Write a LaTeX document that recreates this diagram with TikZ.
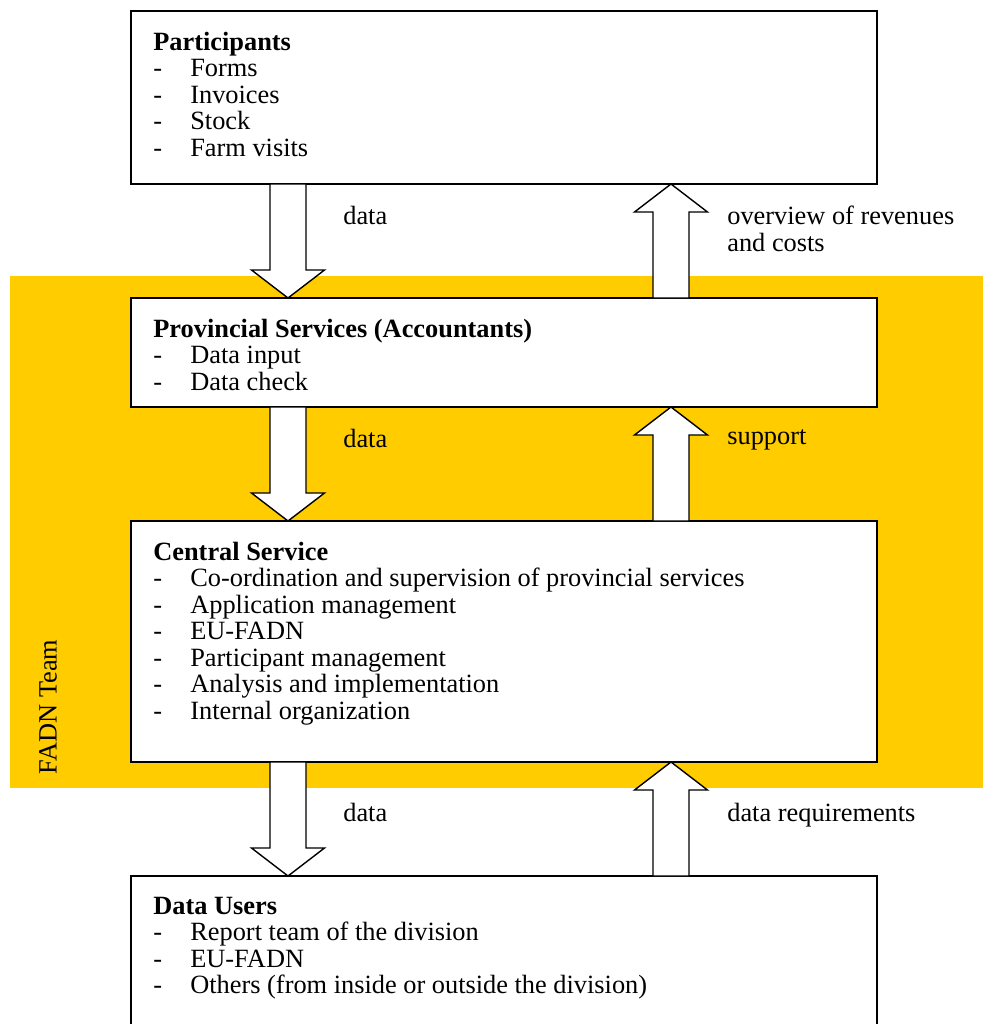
\documentclass[tikz,border=0pt]{standalone}
\usepackage{fontspec}
\setmainfont{Liberation Serif}
\usetikzlibrary{positioning, calc, backgrounds}
\definecolor{teamcolor}{RGB}{255,204,0}
\newcommand{\entry}[1]{\makebox[0.74cm][l]{-}#1}
% block arrows between two boxes: #1 x offset from the west side
\newcommand{\flowdown}[3]{%
  \draw[blockarrow] let \p1 = ($(#2.south west)+(#1,0)$),
                        \p2 = ($(#3.north west)+(#1,0)$) in
    (\x1-0.36cm,\y1) -- (\x1+0.36cm,\y1) -- (\x1+0.36cm,\y2+0.56cm)
    -- (\x1+0.73cm,\y2+0.56cm) -- (\x2,\y2) -- (\x1-0.73cm,\y2+0.56cm)
    -- (\x1-0.36cm,\y2+0.56cm) -- cycle;}
\newcommand{\flowup}[3]{%
  \draw[blockarrow] let \p1 = ($(#2.north west)+(#1,0)$),
                        \p2 = ($(#3.south west)+(#1,0)$) in
    (\x1-0.36cm,\y1) -- (\x1+0.36cm,\y1) -- (\x1+0.36cm,\y2-0.56cm)
    -- (\x1+0.73cm,\y2-0.56cm) -- (\x2,\y2) -- (\x1-0.73cm,\y2-0.56cm)
    -- (\x1-0.36cm,\y2-0.56cm) -- cycle;}
\tikzset{
  unit/.style={draw, line width=1.5pt, fill=white, minimum width=14.92cm,
               inner sep=0pt, outer sep=0pt},
  unittext/.style={anchor=north west, align=left, inner sep=0pt,
                   font=\fontsize{15}{15.1}\selectfont},
  flowlabel/.style={anchor=north west, align=left, inner sep=0pt,
                    font=\fontsize{15}{15.1}\selectfont},
  blockarrow/.style={draw, line width=0.8pt, fill=white, line join=miter},
}
\begin{document}
\begin{tikzpicture}
  \useasboundingbox (0,0) rectangle (19.66,-20.48);
  \clip (0,0) rectangle (19.66,-20.48);

  \node[unit, minimum height=3.46cm, anchor=north west] (part) at (2.62,-0.22) {};
  \node[unit, minimum height=2.18cm, below=2.28cm of part] (prov) {};
  \node[unit, minimum height=4.82cm, below=2.28cm of prov] (central) {};
  \node[unit, minimum height=4cm, below=2.28cm of central] (users) {};

  % --- FADN team band ---
  \begin{scope}[on background layer]
    \fill[teamcolor] ($(prov.north west)+(-2.42,0.44)$)
      rectangle ($(central.south east)+(2.12,-0.52)$);
  \end{scope}
  \node[rotate=90, inner sep=0pt, font=\fontsize{15}{15.1}\selectfont]
    (team) at ($(central.south west)+(-1.66,1.1)$) {FADN Team};

  % --- Box contents ---
  \node[unittext] (parttext) at ($(part.north west)+(0.44,-0.41)$)
    {\textbf{Participants}\\ \entry{Forms}\\ \entry{Invoices}\\
     \entry{Stock}\\ \entry{Farm visits}};
  \node[unittext] (provtext) at ($(prov.north west)+(0.44,-0.41)$)
    {\textbf{Provincial Services (Accountants)}\\ \entry{Data input}\\
     \entry{Data check}};
  \node[unittext] (centraltext) at ($(central.north west)+(0.44,-0.41)$)
    {\textbf{Central Service}\\
     \entry{Co-ordination and supervision of provincial services}\\
     \entry{Application management}\\ \entry{EU-FADN}\\
     \entry{Participant management}\\ \entry{Analysis and implementation}\\
     \entry{Internal organization}};
  \node[unittext] (userstext) at ($(users.north west)+(0.44,-0.41)$)
    {\textbf{Data Users}\\ \entry{Report team of the division}\\
     \entry{EU-FADN}\\ \entry{Others (from inside or outside the division)}};

  % --- Flows ---
  \flowdown{3.14}{part}{prov}
  \flowup{10.8}{prov}{part}
  \flowdown{3.14}{prov}{central}
  \flowup{10.8}{central}{prov}
  \flowdown{3.14}{central}{users}
  \flowup{10.8}{users}{central}

  \node[flowlabel] (data1) at ($(part.south west)+(4.24,-0.44)$) {data};
  \node[flowlabel] (overview) at ($(part.south west)+(11.92,-0.44)$)
    {overview of revenues\\and costs};
  \node[flowlabel] (data2) at ($(prov.south west)+(4.24,-0.44)$) {data};
  \node[flowlabel] (support) at ($(prov.south west)+(11.92,-0.44)$) {support};
  \node[flowlabel] (data3) at ($(central.south west)+(4.24,-0.82)$) {data};
  \node[flowlabel] (requirements) at ($(central.south west)+(11.92,-0.82)$)
    {data requirements};

\end{tikzpicture}
\end{document}
